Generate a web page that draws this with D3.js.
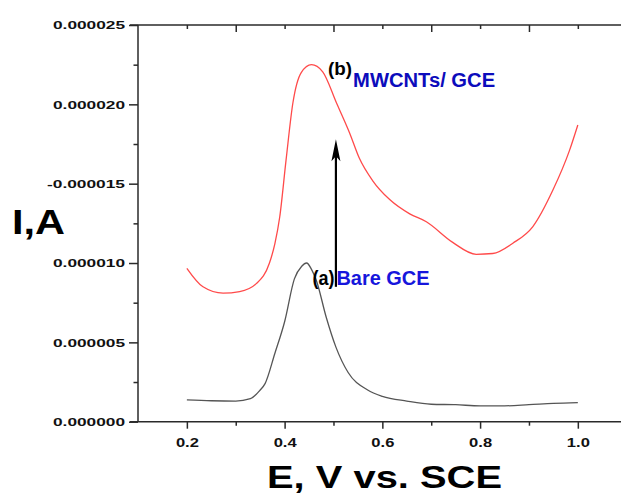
<!DOCTYPE html>
<html>
<head>
<meta charset="utf-8">
<script src="https://cdn.jsdelivr.net/npm/d3@7"></script>
<style>
  html, body { margin: 0; padding: 0; background: #fff; overflow: hidden; }
  svg { display: block; }
</style>
</head>
<body>
<div id="chart"></div>
<script>
//******************************************************************************
//**  Data (E in V vs. SCE, current in microamps)
//******************************************************************************
var bareE = [0.20, 0.25, 0.30, 0.33, 0.35, 0.36, 0.38, 0.40, 0.42, 0.435, 0.445,
    0.455, 0.465, 0.485, 0.505, 0.53, 0.57, 0.60, 0.65, 0.70, 0.75, 0.80, 0.85,
    0.90, 0.95, 1.00];
var bareI = [1.37, 1.32, 1.30, 1.45, 2.0, 2.4, 4.3, 6.3, 9.0, 9.8, 10.0,
    9.6, 8.9, 6.6, 4.7, 3.1, 2.0, 1.6, 1.3, 1.1, 1.07, 1.0, 1.0,
    1.07, 1.15, 1.2];

var mwcntE = [0.20, 0.233, 0.274, 0.308, 0.342, 0.369, 0.38, 0.39, 0.403, 0.417, 0.434,
    0.455, 0.478, 0.506, 0.533, 0.553, 0.58, 0.615, 0.656, 0.69, 0.744, 0.792,
    0.826, 0.867, 0.908, 0.949, 0.983, 1.00];
var mwcntI = [9.67, 8.5, 8.1, 8.2, 8.7, 10.0, 11.2, 12.9, 16.5, 20.1, 22.0,
    22.5, 22.05, 20.1, 18.2, 16.6, 15.2, 14.0, 13.1, 12.6, 11.3, 10.55,
    10.6, 11.25, 12.3, 14.6, 17.1, 18.7];

var xTicks = [0.2, 0.4, 0.6, 0.8, 1.0];
var xTickLabels = ["0.2", "0.4", "0.6", "0.8", "1.0"];
var xMinorTicks = [0.3, 0.5, 0.7, 0.9];
var topMajorTicks = [0.3, 0.5, 0.7, 0.9];
var topMinorTicks = [0.2, 0.4, 0.6, 0.8, 1.0];

var yTicks = [0, 5, 10, 15, 20, 25];
var yTickLabels = ["0.000000", "0.000005", "0.000010", "-0.000015", "0.000020", "0.000025"];
var yMinorTicks = [2.5, 7.5, 12.5, 17.5, 22.5];

// annotations: [E, I, tag, name]
var arrowFrom = [0.505, 8.5];
var arrowTo = [0.505, 17.8];
var labelA = [0.457, 8.61, "(a)", "Bare GCE"];
var labelB = [0.489, 21.85, "(b)", "MWCNTs/ GCE"];

//******************************************************************************
//**  Chart
//******************************************************************************
var width = 621, height = 495;
var font = "'Liberation Sans', Arial, sans-serif";
var axisColor = "#2a2a2a";

var svg = d3.select("#chart").append("svg")
    .attr("width", width)
    .attr("height", height)
    .style("font-family", font);

var x = d3.scaleLinear().domain([0.1, 1.1]).range([138, 626.7]);
var y = d3.scaleLinear().domain([0, 25]).range([421.7, 25]);

var plotLeft = x(0.1);
var plotTop = y(25);
var plotBottom = y(0);

//** frame lines along top and bottom (run a little past the left axis)
svg.append("path")
    .attr("d", "M" + (plotLeft - 8) + "," + plotTop + "H" + width)
    .attr("fill", "none")
    .attr("stroke", axisColor).attr("stroke-width", 1.5);
svg.append("path")
    .attr("d", "M" + (plotLeft - 8) + "," + plotBottom + "H" + width)
    .attr("fill", "none")
    .attr("stroke", axisColor).attr("stroke-width", 1.5);

//** tick helper
function ticks(axis, pos, values, size){
    var g = svg.append("g").attr("transform", pos).call(axis.tickValues(values).tickSize(size));
    g.select(".domain").remove();
    g.selectAll("line").attr("stroke", axisColor).attr("stroke-width", 1.5);
    return g;
}

//** bottom axis
var bottomAxis = ticks(d3.axisBottom(x).tickFormat(function(d, i){ return xTickLabels[i]; }),
    "translate(0," + plotBottom + ")", xTicks, 7);
bottomAxis.selectAll("text")
    .attr("y", 25)
    .attr("dy", 0)
    .attr("fill", "#111")
    .style("font-size", "13px")
    .style("font-weight", "bold")
    .attr("textLength", 23)
    .attr("lengthAdjust", "spacingAndGlyphs");
ticks(d3.axisBottom(x).tickFormat(""), "translate(0," + plotBottom + ")", xMinorTicks, 4);

//** top axis (ticks point inward)
ticks(d3.axisBottom(x).tickFormat(""), "translate(0," + plotTop + ")", topMajorTicks, 7);
ticks(d3.axisBottom(x).tickFormat(""), "translate(0," + plotTop + ")", topMinorTicks, 4);

//** left axis
var leftAxis = ticks(d3.axisLeft(y).tickFormat(function(d, i){ return yTickLabels[i]; }),
    "translate(" + plotLeft + ",0)", yTicks, 9);
leftAxis.selectAll("text")
    .attr("x", -13)
    .attr("dy", "0.36em")
    .attr("fill", "#111")
    .style("font-size", "11px")
    .style("font-weight", "bold")
    .attr("textLength", function(d, i){
        return yTickLabels[i].charAt(0) === "-" ? 78 : 72;
    })
    .attr("lengthAdjust", "spacingAndGlyphs");
ticks(d3.axisLeft(y).tickFormat(""), "translate(" + plotLeft + ",0)", yMinorTicks, 4.5);
svg.append("path")
    .attr("d", "M" + plotLeft + "," + plotBottom + "V" + plotTop)
    .attr("fill", "none")
    .attr("stroke", axisColor).attr("stroke-width", 1.5);

//** axis titles
svg.append("text")
    .attr("x", 12).attr("y", 234)
    .attr("fill", "#000")
    .style("font-size", "35px")
    .style("font-weight", "bold")
    .attr("textLength", 53)
    .attr("lengthAdjust", "spacingAndGlyphs")
    .text("I,A");

svg.append("text")
    .attr("x", 267).attr("y", 488)
    .attr("fill", "#000")
    .style("font-size", "32px")
    .style("font-weight", "bold")
    .attr("textLength", 235)
    .attr("lengthAdjust", "spacingAndGlyphs")
    .text("E, V vs. SCE");

//** curves
var line = d3.line()
    .x(function(d){ return x(d[0]); })
    .y(function(d){ return y(d[1]); })
    .curve(d3.curveMonotoneX);

svg.append("path")
    .datum(d3.zip(bareE, bareI))
    .attr("d", line)
    .attr("fill", "none")
    .attr("stroke", "#555")
    .attr("stroke-width", 1.3);

svg.append("path")
    .datum(d3.zip(mwcntE, mwcntI))
    .attr("d", line)
    .attr("fill", "none")
    .attr("stroke", "#ff4a4a")
    .attr("stroke-width", 1.3);

//** arrow
var ax = x(arrowFrom[0]);
var tipY = y(arrowTo[1]);
svg.append("line")
    .attr("x1", ax).attr("x2", ax)
    .attr("y1", y(arrowFrom[1])).attr("y2", tipY + 10)
    .attr("stroke", "#000").attr("stroke-width", 2.2);
svg.append("path")
    .attr("d", "M" + ax + "," + tipY + "L" + (ax + 4.5) + "," + (tipY + 22) +
        "L" + ax + "," + (tipY + 17) + "L" + (ax - 4.5) + "," + (tipY + 22) + "Z")
    .attr("fill", "#000");

//** labels
function addLabel(lbl, tagSize, tagLen, nameSize, nameLen, nameColor, nameDx, nameDy){
    var t = svg.append("text")
        .attr("x", x(lbl[0])).attr("y", y(lbl[1]))
        .style("font-weight", "bold");
    t.append("tspan")
        .attr("fill", "#000")
        .style("font-size", tagSize + "px")
        .attr("textLength", tagLen)
        .attr("lengthAdjust", "spacingAndGlyphs")
        .text(lbl[2]);
    t.append("tspan")
        .attr("dx", nameDx)
        .attr("dy", nameDy)
        .attr("fill", nameColor)
        .style("font-size", nameSize + "px")
        .attr("textLength", nameLen)
        .attr("lengthAdjust", "spacingAndGlyphs")
        .text(lbl[3]);
}
addLabel(labelB, 19, 24, 19.5, 142, "#0c0cbc", 1, 12);
addLabel(labelA, 20, 22, 19.5, 93, "#1616dc", 2, 0);
</script>
</body>
</html>
